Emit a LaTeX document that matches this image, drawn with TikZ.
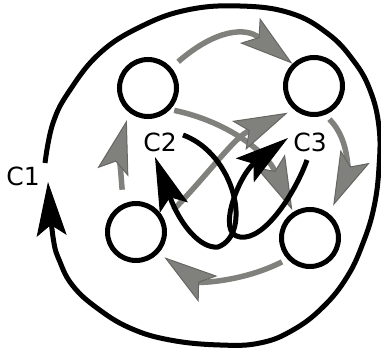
\documentclass[tikz,border=0pt]{standalone}
\usepackage{fontspec}
\setmainfont{DejaVu Sans}
\usepackage{tikz}
\usetikzlibrary{arrows.meta}
\definecolor{flowgray}{RGB}{128,128,124}

\begin{document}
\begin{tikzpicture}[
        x=1pt, y=1pt,
        state/.style={draw, circle, line width=5pt, minimum size=57pt, inner sep=0pt},
        flow/.style={-{Stealth[length=54pt, width=32pt, inset=11pt, line width=1pt, fill=flowgray, color=flowgray!80!black]}, line width=5.5pt, color=flowgray},
        cyc/.style={-{Stealth[length=54pt, width=30pt, inset=11pt, line width=1pt]}, line width=5pt},
        lbl/.style={font=\fontsize{25}{30}\selectfont, inner sep=0pt}
    ]
        \useasboundingbox (0,0) rectangle (381,349);

        % States
        \node[state] (TL) at (148,261) {};
        \node[state] (TR) at (314,263) {};
        \node[state] (BL) at (136,117) {};
        \node[state] (BR) at (310,111) {};

        % Gray transitions
        \draw[flow, shorten <=9pt] (TL.41) to[out=41, in=142, looseness=1.25] (TR.134);
        \draw[flow, shorten <=14pt, shorten >=8pt] (BL.114) to[out=95, in=255] (TL.232);
        \draw[flow, shorten <=6pt, shorten >=9pt] (TR.-69) to[out=-45, in=66] (BR.51);
        \draw[flow, shorten <=6pt, shorten >=7pt] (BR.223) to[out=207, in=-36] (BL.-43);
        \draw[flow, shorten <=4pt, shorten >=2pt] (TL.-44) to[out=-12, in=114] (BR.123);
        \draw[flow, shorten <=13pt, shorten >=7pt] (BL.24) to[out=46, in=205] (TR.230);

        % Labels
        \node[lbl] (C1) at (23,173) {C1};
        \node[lbl] (C2) at (160,207) {C2};
        \node[lbl] (C3) at (310,207) {C3};

        % Cycles
        \coordinate (c2start) at (183,214);
        \coordinate (c2end) at (155,192);
        \coordinate (c3start) at (307,189);
        \coordinate (c3end) at (288,211);

        \draw[cyc] plot[smooth, tension=0.7] coordinates {(45,186) (53,226) (70,259) (100,296) (140,322) (187,339) (240,343) (290,336) (327,316) (353,289) (370,259) (379,222) (379,182) (374,142) (363,106) (347,72) (323,42) (293,19) (260,6) (220,4) (170,9) (130,21) (97,41) (73,63) (60,87) (53,112) (48,167)};

        \draw[cyc] (c2start) .. controls (235,195) and (253,115) .. (218,102) .. controls (200,100) and (180,125) .. (c2end);
        \draw[cyc] (c3start) .. controls (296,158) and (265,108) .. (240,112) .. controls (215,115) and (240,175) .. (c3end);
    \end{tikzpicture}
\end{document}
